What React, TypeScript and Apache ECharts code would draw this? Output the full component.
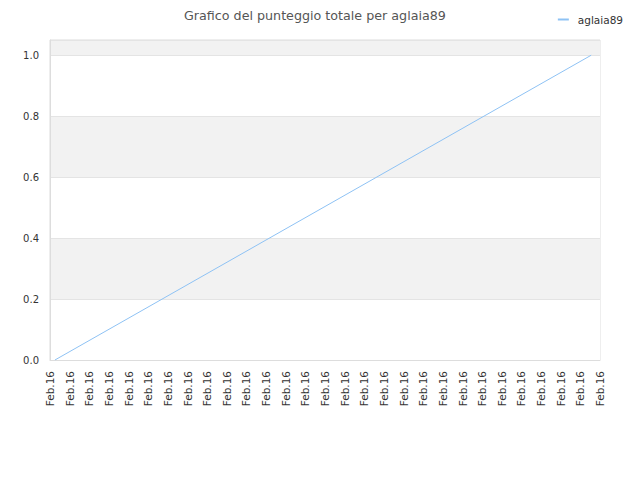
import { useEffect, useRef } from 'react';
import * as echarts from 'echarts';

const categories: string[] = Array(29).fill('Feb.16');
const seriesName = 'aglaia89';
// [position along the date axis, total score]
const scoreData: [number, number][] = [
  [0.25, 0],
  [27.55, 1],
];
const yTicks = { min: 0, max: 1.05, interval: 0.2 };

export default function App() {
  const chartRef = useRef<HTMLDivElement>(null);

  useEffect(() => {
    if (!chartRef.current) return;
    const chart = echarts.init(chartRef.current, null, { renderer: 'svg' });

    const font = 'DejaVu Sans, sans-serif';

    chart.setOption({
      animation: false,
      textStyle: { fontFamily: font },
      title: {
        text: 'Grafico del punteggio totale per aglaia89',
        left: 179,
        top: 4,
        textStyle: { fontSize: 12.7, fontWeight: 'normal', color: '#555', fontFamily: font },
      },
      legend: {
        data: [seriesName],
        right: 12,
        top: 9,
        itemWidth: 11,
        itemHeight: 2,
        itemGap: 6,
        icon: 'rect',
        textStyle: { fontSize: 10.5, color: '#333', fontFamily: font, padding: [0, 0, 0, 4] },
      },
      grid: {
        left: 50,
        right: 40,
        top: 40,
        bottom: 120,
        show: true,
        borderColor: '#dddddd',
        borderWidth: 1,
        backgroundColor: 'transparent',
      },
      xAxis: [
        {
          type: 'category',
          data: categories,
          boundaryGap: false,
          axisLine: { lineStyle: { color: '#dddddd' } },
          axisTick: { show: false },
          axisLabel: {
            rotate: 90,
            interval: 0,
            fontSize: 10.5,
            color: '#333',
            margin: 11,
            fontFamily: font,
          },
          splitLine: { show: false },
        },
        {
          type: 'value',
          min: 0,
          max: categories.length - 1,
          show: false,
        },
      ],
      yAxis: {
        type: 'value',
        min: yTicks.min,
        max: yTicks.max,
        interval: yTicks.interval,
        axisLine: { show: true, lineStyle: { color: '#dddddd' } },
        axisTick: { show: false },
        axisLabel: {
          fontSize: 10,
          color: '#333',
          margin: 11,
          showMaxLabel: false,
          formatter: (v: number) => v.toFixed(1),
          fontFamily: font,
        },
        splitLine: { show: true, lineStyle: { color: '#e4e4e4' } },
        splitArea: { show: true, areaStyle: { color: ['#ffffff', '#f2f2f2'] } },
      },
      series: [
        {
          name: seriesName,
          type: 'line',
          xAxisIndex: 1,
          data: scoreData,
          showSymbol: false,
          lineStyle: { width: 1, color: '#8ec2f4' },
          itemStyle: { color: '#8ec2f4' },
        },
      ],
    });

    return () => chart.dispose();
  }, []);

  return (
    <div
      ref={chartRef}
      style={{ position: 'absolute', left: 0, top: 0, width: 640, height: 480 }}
    />
  );
}
